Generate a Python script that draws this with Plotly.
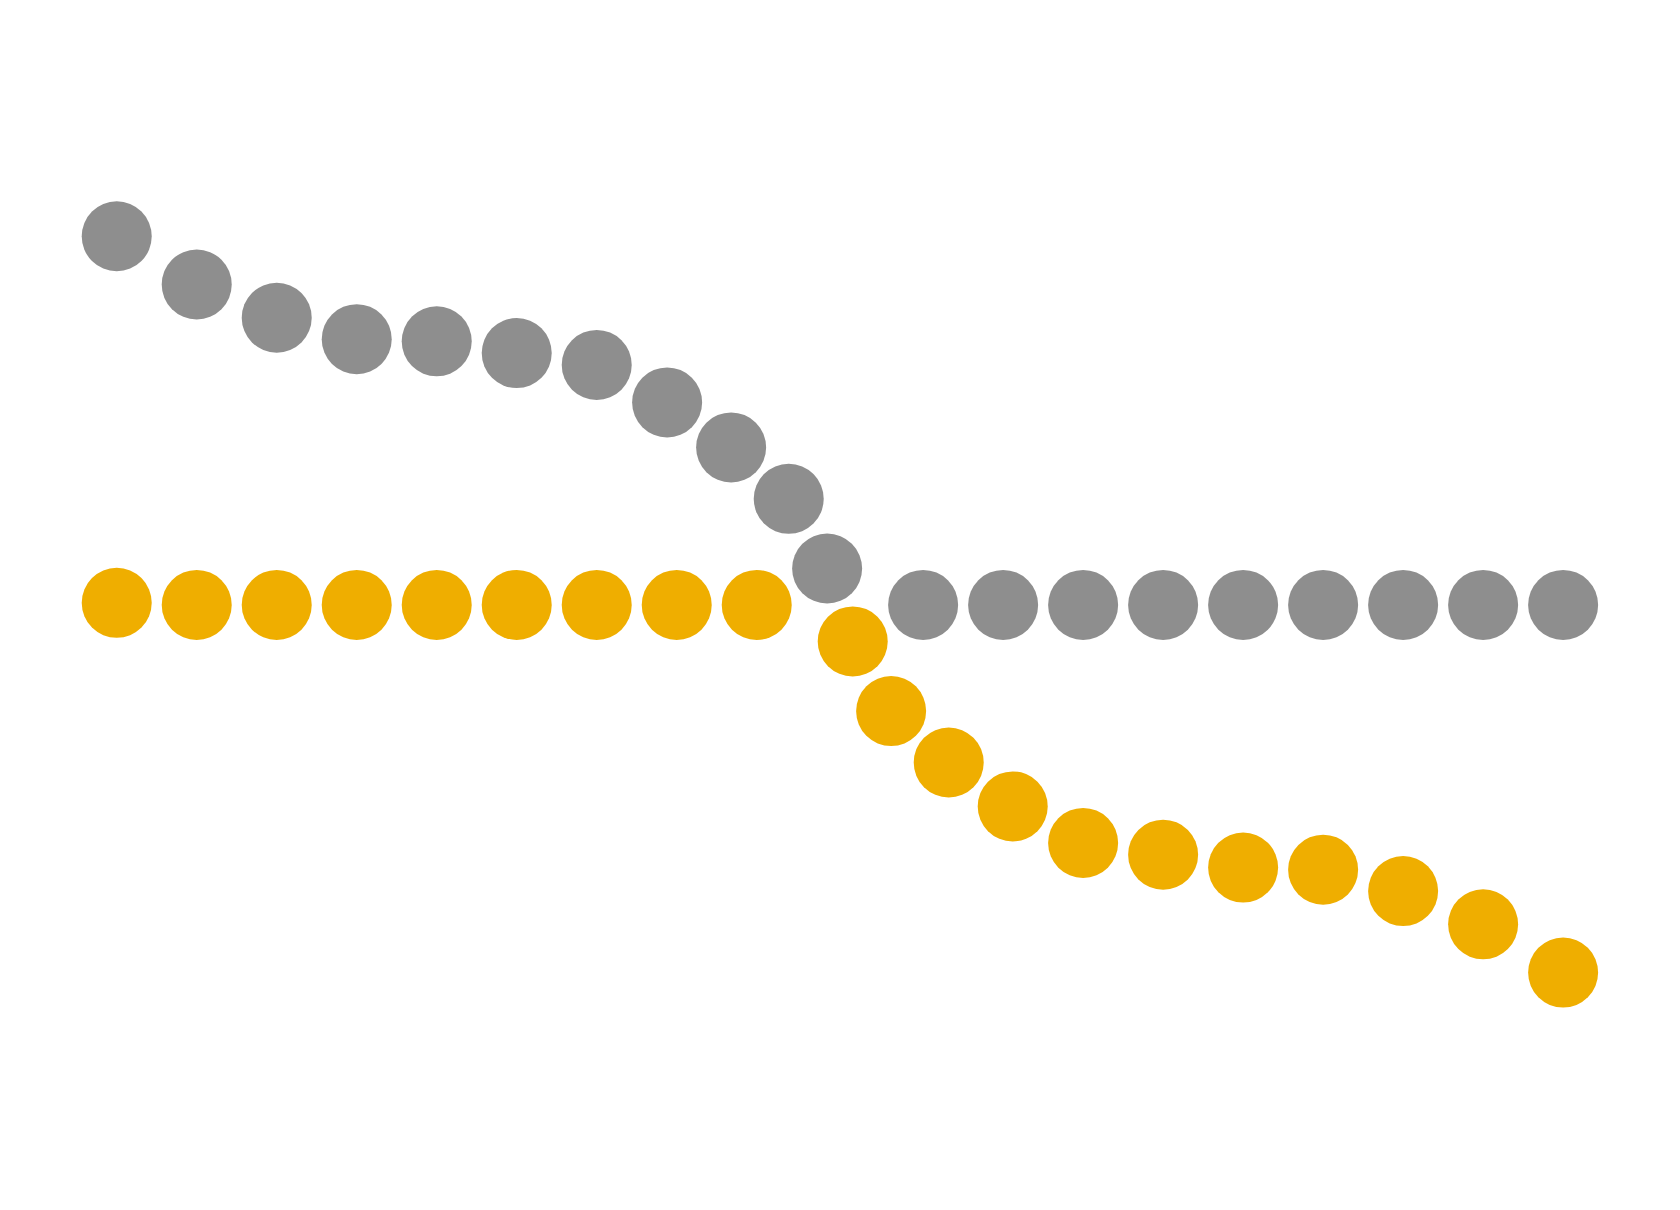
import plotly.graph_objects as go

# series positions (x = step, y = offset from the centre line)
grey_x = [1, 2, 3, 4, 5, 6, 7, 7.88, 8.68, 9.40, 9.88,
          11.08, 12.08, 13.08, 14.08, 15.08, 16.08, 17.08, 18.08, 19.08]
grey_y = [3.44, 2.99, 2.68, 2.48, 2.46, 2.35, 2.24, 1.89, 1.47, 0.99, 0.34,
          0, 0, 0, 0, 0, 0, 0, 0, 0]

gold_x = [1, 2, 3, 4, 5, 6, 7, 8, 9, 10.20, 10.68, 11.40, 12.20,
          13.08, 14.08, 15.08, 16.08, 17.08, 18.08, 19.08]
gold_y = [0.02, 0, 0, 0, 0, 0, 0, 0, 0,
          -0.34, -0.99, -1.47, -1.88, -2.22, -2.33, -2.45, -2.47, -2.67, -2.98, -3.43]

GREY = '#8e8e8e'
GOLD = '#efae00'

fig = go.Figure()

fig.add_trace(go.Scatter(
    x=grey_x, y=grey_y, mode='markers', name='grey',
    marker=dict(size=70, color=GREY, line=dict(width=0)),
))
fig.add_trace(go.Scatter(
    x=gold_x, y=gold_y, mode='markers', name='gold',
    marker=dict(size=70, color=GOLD, line=dict(width=0)),
))

# ranges nudged so the page's 8px body margin doesn't push the dots off
fig.update_layout(
    width=1680,
    height=1210,
    margin=dict(l=0, r=0, t=0, b=0),
    paper_bgcolor='white',
    plot_bgcolor='white',
    showlegend=False,
    xaxis=dict(range=[-0.359, 20.641], visible=False, showgrid=False, zeroline=False),
    yaxis=dict(range=[-5.72, 5.57], visible=False, showgrid=False, zeroline=False),
)

fig.write_html("out.html")
